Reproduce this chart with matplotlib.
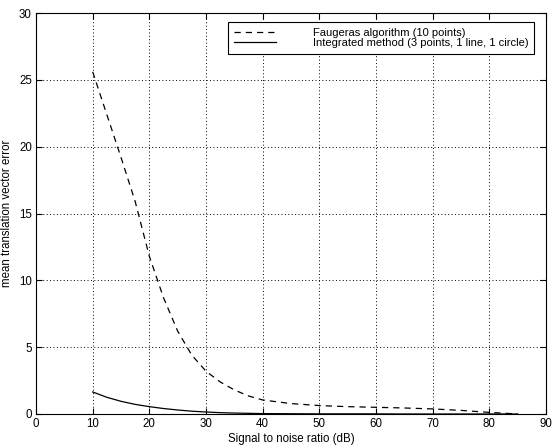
import matplotlib.pyplot as plt
import numpy as np

plt.rcParams['font.family'] = ['Liberation Sans', 'DejaVu Sans']

# relacion senal/ruido (dB)
snr = [10, 12.5, 15, 17.5, 20, 22.5, 25, 27.5, 30, 32.5, 35, 37.5, 40,
       45, 50, 55, 60, 65, 70, 75, 80, 85]
# error medio del vector de traslacion
err_faugeras = [25.6, 22.4, 19.2, 15.9, 11.8, 8.7, 6.2, 4.4, 3.2, 2.4, 1.8, 1.35, 1.05,
                0.78, 0.63, 0.55, 0.5, 0.45, 0.38, 0.27, 0.12, 0.0]
err_integrado = [1.65, 1.25, 0.95, 0.72, 0.55, 0.41, 0.3, 0.21, 0.15, 0.1, 0.07, 0.05, 0.03,
                 0.02, 0.01, 0.01, 0.01, 0.0, 0.0, 0.0, 0.0, 0.0]

fs = 8.3

fig = plt.figure(figsize=(5.53, 4.45), dpi=100)
ax = fig.add_axes([36/553, 1 - 414/445, 510/553, 401/445])

ax.plot(snr, err_faugeras, 'k--', lw=0.9, dashes=(5, 4), label='Faugeras algorithm (10 points)')
ax.plot(snr, err_integrado, 'k-', lw=0.9, label='Integrated method (3 points, 1 line, 1 circle)')

ax.set_xlim(0, 90)
ax.set_ylim(0, 30)
ax.set_xticks(np.arange(0, 91, 10))
ax.set_yticks(np.arange(0, 31, 5))
ax.grid(True, color='k', linestyle=(0, (1, 2.5)), lw=0.7)
ax.tick_params(direction='in', top=True, right=True, labelsize=fs, length=4, pad=3)
for s in ax.spines.values():
    s.set_linewidth(0.8)

ax.set_xlabel('Signal to noise ratio (dB)', fontsize=fs, labelpad=2)
ax.set_ylabel('mean translation vector error', fontsize=fs, labelpad=4)

leg = ax.legend(loc='upper right', bbox_to_anchor=(498/510, 1 - 9/401), fontsize=8,
                fancybox=False, edgecolor='k', framealpha=1, handlelength=3.8,
                handletextpad=3.3, borderpad=0.5, labelspacing=0.05, borderaxespad=0)
leg.get_frame().set_linewidth(0.8)

fig.savefig('out.png', dpi=100)
